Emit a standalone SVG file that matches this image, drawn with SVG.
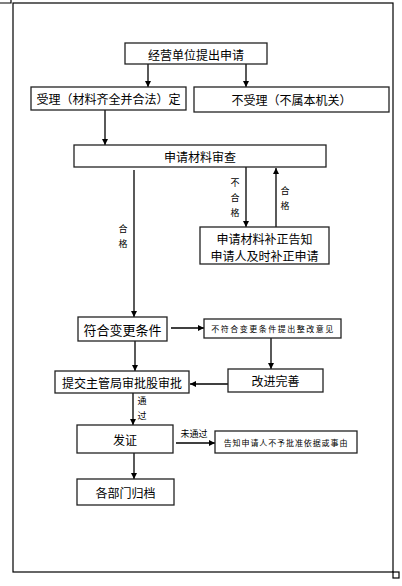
<svg xmlns="http://www.w3.org/2000/svg" width="402" height="586" viewBox="0 0 402 586">
<defs>
<marker id="ah" viewBox="0 0 10 10" refX="10" refY="5" markerWidth="6" markerHeight="6" orient="auto" markerUnits="userSpaceOnUse">
<path d="M0,0 L10,5 L0,10 Z" fill="#000"/>
</marker>
</defs>
<style>
.box{fill:#fff;stroke:#222;stroke-width:1.3}
.t{font-family:"Noto Sans CJK SC","Liberation Sans",sans-serif;font-size:12px;fill:#000;text-anchor:middle;dominant-baseline:central}
.s{font-size:8px;letter-spacing:1.5px}
.l{font-size:9px}
.c{stroke:#000;stroke-width:1.3;fill:none;marker-end:url(#ah)}
.f{stroke:#000;stroke-width:1.2;fill:none}
</style>
<rect width="402" height="586" fill="#fff"/>
<g id="frame">
<rect class="f" x="13" y="3" width="380" height="569"/>
<path class="f" d="M0,3 H11 V0"/>
<rect class="f" x="393" y="572" width="6" height="6"/>
</g>
<g id="connectors">
<line class="c" x1="148" y1="64" x2="148" y2="87"/>
<line class="c" x1="246" y1="64" x2="246" y2="87"/>
<line class="c" x1="105" y1="110" x2="105" y2="145"/>
<line class="c" x1="134" y1="170" x2="134" y2="317"/>
<line class="c" x1="246" y1="167" x2="246" y2="227"/>
<line class="c" x1="276" y1="227" x2="276" y2="168"/>
<line class="c" x1="171" y1="328" x2="204" y2="328"/>
<line class="c" x1="271" y1="338" x2="271" y2="369"/>
<line class="c" x1="135" y1="341" x2="135" y2="371"/>
<line class="c" x1="228" y1="384" x2="190" y2="384"/>
<line class="c" x1="133" y1="393" x2="133" y2="425"/>
<line class="c" x1="176" y1="443" x2="215" y2="443"/>
<line class="c" x1="134" y1="453" x2="134" y2="479"/>
<text class="t l" x="123" y="228">合</text>
<text class="t l" x="123" y="243">格</text>
<text class="t l" x="235" y="182">不</text>
<text class="t l" x="235" y="197">合</text>
<text class="t l" x="235" y="212">格</text>
<text class="t l" x="285" y="190">合</text>
<text class="t l" x="285" y="205">格</text>
<text class="t l" x="142" y="400">通</text>
<text class="t l" x="142" y="415">过</text>
<text class="t l" x="194" y="433">未通过</text>
</g>
<g id="n1"><rect class="box" x="125" y="43" width="142" height="21"/><text class="t" x="196" y="54">经营单位提出申请</text></g>
<g id="n2"><rect class="box" x="31" y="87" width="155" height="23"/><text class="t" x="108.5" y="98.5">受理（材料齐全并合法）定</text></g>
<g id="n3"><rect class="box" x="194" y="87" width="195" height="25"/><text class="t" x="291.5" y="99.5">不受理（不属本机关）</text></g>
<g id="n4"><rect class="box" x="74" y="145" width="252" height="22"/><text class="t" x="200" y="156">申请材料审查</text></g>
<g id="n5"><rect class="box" x="200" y="227" width="129" height="37"/><text class="t" x="264.5" y="238">申请材料补正告知</text><text class="t" x="264.5" y="255">申请人及时补正申请</text></g>
<g id="n6"><rect class="box" x="78" y="317" width="89" height="24"/><text class="t" x="122.5" y="329" style="font-size:13px">符合变更条件</text></g>
<g id="n7"><rect class="box" x="204" y="319" width="137" height="19"/><text class="t s" x="273" y="328.5">不符合变更条件提出整改意见</text></g>
<g id="n8"><rect class="box" x="228" y="369" width="95" height="23"/><text class="t" x="275.5" y="380.5">改进完善</text></g>
<g id="n9"><rect class="box" x="55" y="371" width="134" height="22"/><text class="t" x="122" y="382">提交主管局审批股审批</text></g>
<g id="n10"><rect class="box" x="77" y="425" width="96" height="28"/><text class="t" x="125" y="439">发证</text></g>
<g id="n11"><rect class="box" x="215" y="431" width="142" height="22"/><text class="t s" x="286" y="442" style="letter-spacing:0.9px">告知申请人不予批准依据或事由</text></g>
<g id="n12"><rect class="box" x="77" y="479" width="97" height="26"/><text class="t" x="125.5" y="492">各部门归档</text></g>
</svg>
